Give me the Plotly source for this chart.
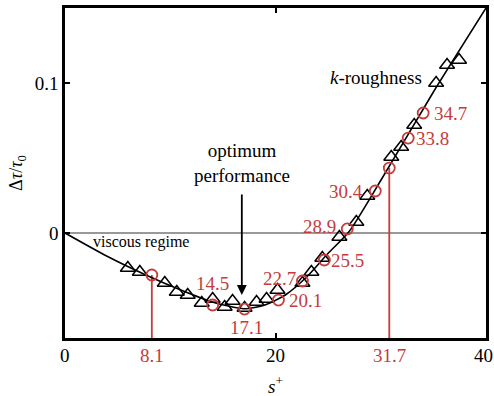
import plotly.graph_objects as go

# ---- data ----
curve_x = [0, 4, 8, 11, 14, 17, 19, 21, 23, 25, 27, 30, 35, 40]
curve_y = [0, -0.0155, -0.029, -0.038, -0.046, -0.0505, -0.048, -0.041, -0.029, -0.0135, 0.001, 0.035, 0.094, 0.15]

tri_x = [5.97, 7.11, 9.48, 10.62, 11.66, 12.99, 14.03, 15.17, 15.92, 17.06, 18.2, 19.15, 20.19,
         22.56, 23.41, 24.45, 26.07, 27.68, 28.72, 31.0, 31.94, 33.18, 35.26, 36.3, 37.44]
tri_y = [-0.0233, -0.026, -0.0333, -0.0393, -0.0413, -0.0467, -0.044, -0.0493, -0.0453, -0.05, -0.046,
         -0.044, -0.038, -0.0333, -0.026, -0.0167, -0.0027, 0.0073, 0.0247, 0.0507, 0.0573, 0.072,
         0.10, 0.112, 0.1153]

circ_x = [8.25, 14.03, 17.06, 20.28, 22.56, 24.64, 26.82, 29.48, 30.81, 32.61, 34.03]
circ_y = [-0.028, -0.048, -0.0507, -0.0447, -0.032, -0.018, 0.0027, 0.028, 0.0433, 0.0633, 0.080]
circ_labels = ["8.1", "14.5", "17.1", "20.1", "22.7", "25.5", "28.9", "30.4", "31.7", "33.8", "34.7"]

x_ticks = [0, 20, 40]
x_tick_labels = ["0", "20", "40"]
y_ticks = [0, 0.1]
y_tick_labels = ["0", "0.1"]

RED = "#c43c3c"
FONT = "'Liberation Serif', 'Times New Roman', Times, serif"

fig = go.Figure()

# red vertical lines for 8.1 and 31.7
for i in (0, 8):
    fig.add_trace(go.Scatter(x=[circ_x[i], circ_x[i]], y=[circ_y[i], -0.07], mode="lines",
                             line=dict(color=RED, width=1.8), showlegend=False, hoverinfo="skip"))

fig.add_trace(go.Scatter(x=curve_x, y=curve_y, mode="lines", line=dict(color="black", width=1.6, shape="spline", smoothing=0.6),
                         showlegend=False))
fig.add_trace(go.Scatter(x=tri_x, y=tri_y, mode="markers",
                         marker=dict(symbol="triangle-up-open", size=13, color="black", line=dict(width=1.5)),
                         showlegend=False))
fig.add_trace(go.Scatter(x=circ_x, y=circ_y, mode="markers",
                         marker=dict(symbol="circle-open", size=11, color=RED, line=dict(width=1.8)),
                         showlegend=False))

# label placements (anchor, xshift, yshift)
place = {
    "14.5": ("center", 0, 22),
    "17.1": ("center", 2, -18),
    "20.1": ("left", 9, 0),
    "22.7": ("right", -4, 3),
    "25.5": ("left", 5, 0),
    "28.9": ("right", -9, 2),
    "30.4": ("right", -10, 0),
    "33.8": ("left", 6, 0),
    "34.7": ("left", 9, 0),
}
ann = []
for x, y, t in zip(circ_x, circ_y, circ_labels):
    if t in place:
        a, xs, ys = place[t]
        ann.append(dict(x=x, y=y, text=t, showarrow=False, xanchor=a, yanchor="middle",
                        xshift=xs, yshift=ys, font=dict(family=FONT, size=19, color=RED)))
    else:
        ann.append(dict(x=x, y=0, yref="paper", text=t, showarrow=False, xanchor="center", yanchor="top",
                        yshift=-5, font=dict(family=FONT, size=19, color=RED)))

# black x tick labels, at the same height as the red ones
for x, t in zip(x_ticks, x_tick_labels):
    ann.append(dict(x=x, y=0, yref="paper", text=t, showarrow=False, xanchor="center", yanchor="top",
                    yshift=-5, xshift=-3 if x == 40 else 0, font=dict(family=FONT, size=19, color="black")))

ann.append(dict(x=16.8, y=-0.0413, ax=16.8, ay=0.0267, axref="x", ayref="y", xref="x", yref="y",
                text="", showarrow=True, arrowhead=2, arrowsize=1.1, arrowwidth=1.8, arrowcolor="black"))
ann.append(dict(x=16.8, y=0.047, text="optimum<br>performance", showarrow=False,
                font=dict(family=FONT, size=19, color="black"), align="center"))
ann.append(dict(x=2.5, y=-0.006, text="viscous regime", showarrow=False, xanchor="left",
                font=dict(family=FONT, size=16, color="black")))
ann.append(dict(x=25.0, y=0.104, text="<i>k</i>-roughness", showarrow=False, xanchor="left",
                font=dict(family=FONT, size=19, color="black")))
ann.append(dict(x=0.5, y=0, xref="paper", yref="paper", text="<i>s</i><sup>+</sup>", showarrow=False,
                xanchor="center", yanchor="middle", yshift=-47, font=dict(family=FONT, size=19, color="black")))

fig.update_layout(
    width=494, height=396,
    margin=dict(l=65, r=8, t=8, b=58, autoexpand=False),
    plot_bgcolor="white", paper_bgcolor="white",
    annotations=ann,
    font=dict(family=FONT, size=19, color="black"),
)
fig.update_xaxes(range=[0, 40], tickvals=x_ticks, ticktext=x_tick_labels, showticklabels=False,
                 ticks="inside", ticklen=5,
                 tickwidth=2, tickcolor="black", showline=True, linewidth=2.5, linecolor="black", mirror="allticks",
                 showgrid=False, zeroline=False, automargin=False)
fig.update_yaxes(range=[-0.07, 0.15], tickvals=y_ticks, ticktext=y_tick_labels, ticks="inside", ticklen=5,
                 tickwidth=2, tickcolor="black", showline=True, linewidth=2.5, linecolor="black", mirror="allticks",
                 showgrid=False, zeroline=True, zerolinecolor="#999999", zerolinewidth=1.5, automargin=False,
                 ticklabelstandoff=0, ticklabeloverflow="allow",
                 title=dict(text="Δ<i>τ</i>/<i>τ</i><sub>0</sub>", font=dict(family=FONT, size=18), standoff=8))

fig.write_html("out.html", config={"displayModeBar": False},
               post_script="document.body.style.margin='0';document.body.style.overflow='hidden';")
